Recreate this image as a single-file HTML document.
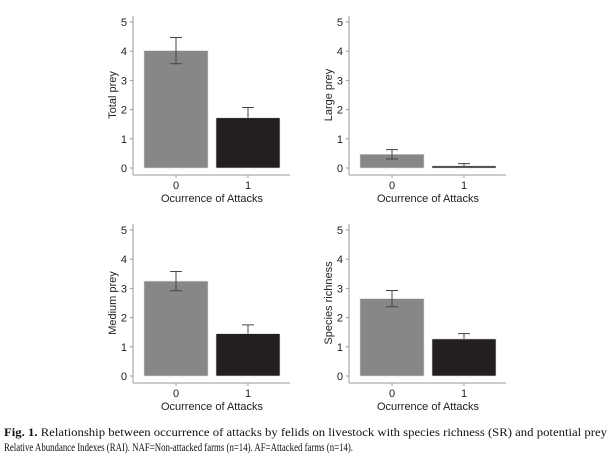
<!DOCTYPE html>
<html><head><meta charset="utf-8"><style>
html,body{margin:0;padding:0;background:#fff;width:611px;height:459px;overflow:hidden}
svg{display:block}
.t{font-family:"Liberation Sans",sans-serif;font-size:11px;fill:#222}
.c{font-family:"Liberation Serif",serif;font-size:11.5px;fill:#111}
</style></head><body>
<svg id="s" width="611" height="459">
<text class="c" x="4" y="436" textLength="603" lengthAdjust="spacingAndGlyphs"><tspan font-weight="bold">Fig. 1.</tspan> Relationship between occurrence of attacks by felids on livestock with species richness (SR) and potential prey</text>
<text class="c" x="4" y="451" textLength="349" lengthAdjust="spacingAndGlyphs">Relative Abundance Indexes (RAI). NAF=Non-attacked farms (n=14). AF=Attacked farms (n=14).</text>
</svg>
<script>
const categories = ["0", "1"];
const panelTitles = ["Total prey", "Large prey", "Medium prey", "Species richness"];
const totalPrey = [4.02, 1.72];
const totalPreyErr = [0.45, 0.35];
const largePrey = [0.47, 0.07];
const largePreyErr = [0.16, 0.08];
const mediumPrey = [3.25, 1.45];
const mediumPreyErr = [0.33, 0.3];
const speciesRichness = [2.65, 1.27];
const speciesRichnessErr = [0.28, 0.18];
const yTicks = [0, 1, 2, 3, 4, 5];
const xLabel = "Ocurrence of Attacks";

const NS = "http://www.w3.org/2000/svg";
const svg = document.getElementById("s");
function mk(tag, attrs, parent) {
  const e = document.createElementNS(NS, tag);
  for (const k in attrs) e.setAttribute(k, attrs[k]);
  (parent || svg).appendChild(e);
  return e;
}
const panels = [
  {vals: totalPrey, err: totalPreyErr, ox: 0, oy: 0},
  {vals: largePrey, err: largePreyErr, ox: 216, oy: 0},
  {vals: mediumPrey, err: mediumPreyErr, ox: 0, oy: 208},
  {vals: speciesRichness, err: speciesRichnessErr, ox: 216, oy: 208}
];
const colors = ["#87878a", "#231f20"];
panels.forEach((p, i) => {
  const g = mk("g", {transform: `translate(${p.ox},${p.oy})`});
  
  
  const y = v => 168 - v * 29.2;
  const x0 = 144, bw = 64, gap = 8;
  const xb = k => x0 + k * (bw + gap);
  // axes
  const ya = mk("line", {x1: 133, y1: 16, x2: 133, y2: 175, stroke: "#999", "stroke-width": 1}, g);
  
  
  const xa = mk("line", {x1: 133, y1: 175, x2: 290, y2: 175, stroke: "#999", "stroke-width": 1}, g);
  
  
  yTicks.forEach(t => {
    mk("line", {x1: 130, y1: y(t), x2: 133, y2: y(t), stroke: "#999"}, g);
    const tx = mk("text", {x: 127, y: y(t) + 4, "text-anchor": "end", class: "t"}, g);
    tx.textContent = t;
    
    
  });
  categories.forEach((c, k) => {
    const cx = xb(k) + bw / 2;
    const r = mk("rect", {x: xb(k), y: y(p.vals[k]), width: bw, height: y(0) - y(p.vals[k]), fill: colors[k], stroke: "#ddd", "stroke-width": 0.6}, g);
    
    
    const top = y(p.vals[k] + p.err[k]);
    const bot = k === 0 ? y(p.vals[k] - p.err[k]) : y(p.vals[k]);
    const e = mk("path", {d: `M${cx},${top}V${bot}M${cx - 6},${top}H${cx + 6}` + (k === 0 ? `M${cx - 6},${bot}H${cx + 6}` : ""), stroke: "#444", fill: "none", "stroke-width": 1}, g);
    
    
    mk("line", {x1: cx, y1: 175, x2: cx, y2: 178, stroke: "#999"}, g);
    const tl = mk("text", {x: cx, y: 189, "text-anchor": "middle", class: "t"}, g);
    tl.textContent = c;
    
    
  });
  const xt = mk("text", {x: 212, y: 202, "text-anchor": "middle", class: "t", "font-size": "12px"}, g);
  xt.textContent = xLabel;
  
  
  const yt = mk("text", {x: 0, y: 0, "text-anchor": "middle", class: "t", "font-size": "12px", transform: `translate(116,${y(2.5)}) rotate(-90)`}, g);
  yt.textContent = panelTitles[i];
  
  
});
</script>
</body></html>
